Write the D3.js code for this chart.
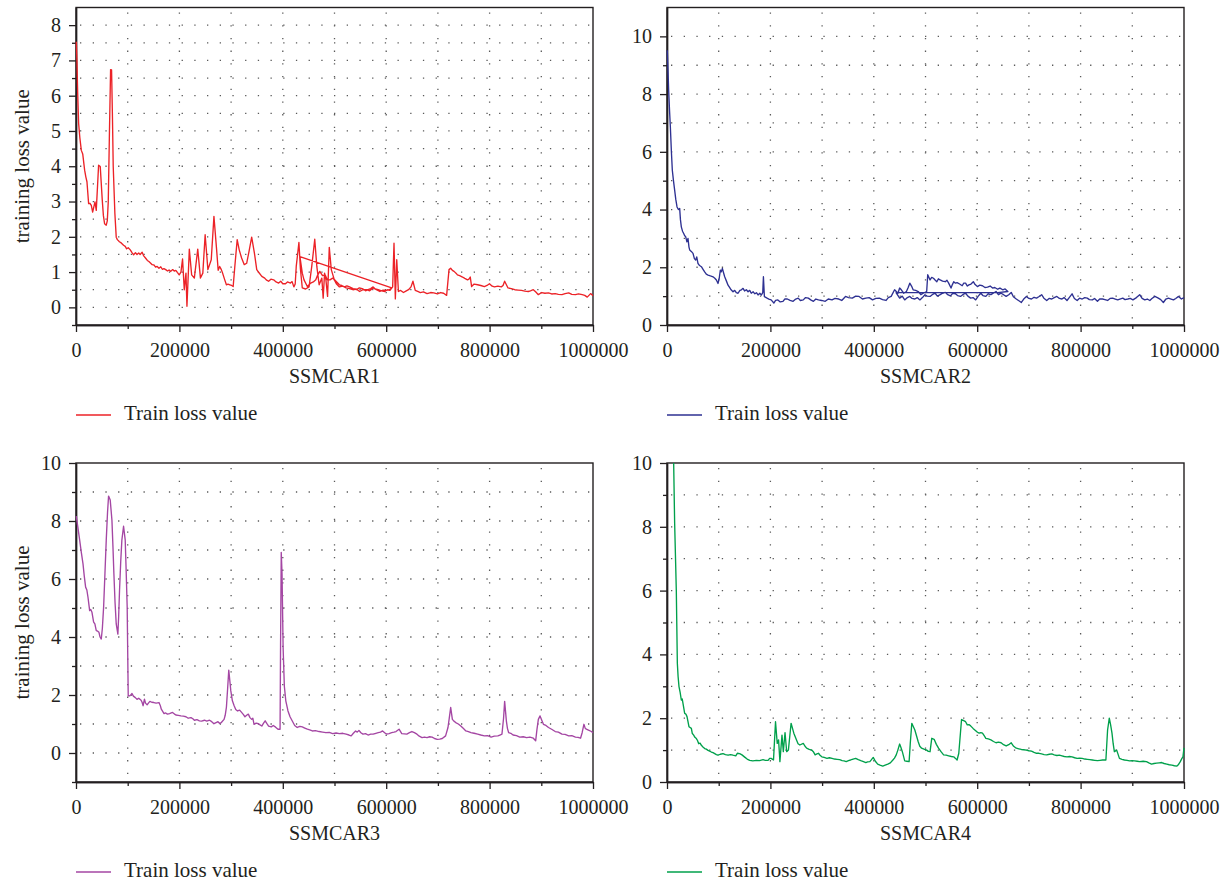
<!DOCTYPE html>
<html>
<head>
<meta charset="utf-8">
<script src="https://cdn.jsdelivr.net/npm/d3@7"></script>
<style>
	body { margin: 0; background: #fff; }
	svg text { font-family: "Liberation Serif", "Times New Roman", serif; fill: #231f20; }
</style>
</head>
<body>
<script>
const w = 1228;
const h = 882;

// * DATA (x = training step in thousands, y = loss)
const xMajorTicks = [0, 200, 400, 600, 800, 1000];
const xMinorTicks = [100, 300, 500, 700, 900];
const xGridLines = [100, 200, 300, 400, 500, 600, 700, 800, 900];

const titles = ["SSMCAR1", "SSMCAR2", "SSMCAR3", "SSMCAR4"];
const legendLabel = "Train loss value";
const yTitle = "training loss value";
const lineColors = ["#ec2227", "#2e3192", "#a446a3", "#00a04b"];

const car1YDomain = [-0.5, 8.5];
const car1YTicks = [0, 1, 2, 3, 4, 5, 6, 7, 8];
const car1YMinor = [-0.5, 0.5, 1.5, 2.5, 3.5, 4.5, 5.5, 6.5, 7.5];
const car1YGrid = [0, 0.5, 1, 1.5, 2, 2.5, 3, 3.5, 4, 4.5, 5, 5.5, 6, 6.5, 7, 7.5, 8];

const car2YDomain = [0, 11];
const car2YTicks = [0, 2, 4, 6, 8, 10];
const car2YMinor = [1, 3, 5, 7, 9];
const car2YGrid = [1, 2, 3, 4, 5, 6, 7, 8, 9, 10];

const car3YDomain = [-1, 10];
const car3YTicks = [0, 2, 4, 6, 8, 10];
const car3YMinor = [-1, 1, 3, 5, 7, 9];
const car3YGrid = [0, 1, 2, 3, 4, 5, 6, 7, 8, 9];

const car4YDomain = [0, 10];
const car4YTicks = [0, 2, 4, 6, 8, 10];
const car4YMinor = [1, 3, 5, 7, 9];
const car4YGrid = [1, 2, 3, 4, 5, 6, 7, 8, 9];

const car1Loss = [
	[0.6, 7.53], [1.8, 7.0], [3.2, 6.1], [5.1, 5.21], [7.5, 4.8], [10.3, 4.45], [13, 4.35], [16.7, 3.89], [19, 3.7],
	[21.2, 3.56], [24.4, 2.94], [27, 2.95], [29.6, 2.89], [32.2, 2.7], [34.5, 2.85], [36.7, 2.99],
	[39.2, 2.75], [41.5, 3.4], [43.7, 4.03], [46.9, 3.99], [50.8, 3.04], [53, 2.6], [55.3, 2.37],
	[58.5, 2.33], [60.5, 2.45], [62.4, 2.99], [64.5, 4.8], [66.9, 6.74], [68.8, 6.73], [70.5, 5.4],
	[72, 3.99], [75.2, 2.66], [77.8, 1.99], [80, 1.92], [84, 1.86], [88, 1.82], [92, 1.76], [95.2, 1.73],
	[98, 1.66], [101, 1.69], [105, 1.63], [108, 1.56], [111.5, 1.49], [115, 1.55], [118, 1.5],
	[121.3, 1.54], [124, 1.5], [127.9, 1.56], [131, 1.46], [134.4, 1.4], [138, 1.33], [141, 1.3],
	[144, 1.26], [147.4, 1.21], [151, 1.2], [154, 1.14], [157, 1.16], [160.5, 1.11], [164, 1.15],
	[167, 1.08], [170, 1.1], [173.5, 1.07], [177, 1.03], [180, 1.06], [183.3, 1.02], [187, 1.07],
	[190, 1.03], [193.1, 1.05], [196, 0.99], [199.6, 0.92], [203, 1.0], [206.1, 1.37], [209.4, 0.5],
	[212.7, 0.97], [214.6, 0.03], [219.2, 1.65], [223.7, 0.92], [228.9, 0.83], [235.5, 1.65],
	[240.7, 0.83], [245.3, 0.97], [249.8, 2.06], [255.1, 1.07], [261.6, 1.35], [266.8, 2.58],
	[272, 1.63], [275, 1.05], [277.9, 1.16], [281.1, 1.07], [284, 0.95], [287.7, 0.78], [290.9, 0.64],
	[294, 0.66], [297.5, 0.64], [301, 0.62], [304, 0.59], [307.2, 1.16], [311.8, 1.92], [315.7, 1.63],
	[320.3, 1.4], [325.5, 1.21], [330.1, 1.25], [334.6, 1.58], [339.8, 1.99], [345.1, 1.54],
	[349.6, 1.07], [354, 0.98], [359.4, 0.88], [365, 0.83], [368, 0.78], [372.5, 0.74], [377, 0.8],
	[382.3, 0.78], [387, 0.72], [392, 0.69], [396, 0.74], [400, 0.67], [405.1, 0.67], [409, 0.72],
	[414.9, 0.69], [418, 0.73], [421.4, 0.58], [424, 0.66], [426, 1.16], [431.2, 1.84], [434, 1.1],
	[437.7, 0.55], [444.2, 0.52], [450.8, 0.58], [456, 1.16], [461.8, 1.93], [465.8, 1.16],
	[470.3, 0.64], [475.5, 0.83], [478.1, 0.26], [480.8, 0.97], [483.4, 0.78], [486.6, 0.31],
	[489.9, 1.7], [493.8, 1.07], [499.7, 0.78], [504, 0.66], [509.5, 0.58], [516, 0.6], [522.5, 0.55],
	[529, 0.53], [535.6, 0.5], [542, 0.52], [548.6, 0.45], [555, 0.5], [561.7, 0.5], [568, 0.47],
	[574.7, 0.55], [581, 0.5], [587.7, 0.45], [594, 0.49], [600.8, 0.48], [606, 0.5], [610.6, 0.55],
	[433.1, 1.44], [437.7, 0.97], [441, 0.78], [447.5, 0.59], [454, 0.69], [459, 0.72], [463.8, 0.78],
	[467, 0.9], [471.6, 1.02], [476.8, 0.9], [482.1, 0.92], [486, 0.78], [491.2, 0.78], [496.4, 0.83],
	[502.9, 0.74], [509.5, 0.64], [514, 0.62], [519.2, 0.58], [524, 0.61], [529, 0.58], [536, 0.53],
	[542.1, 0.5], [548, 0.55], [555.1, 0.52], [560, 0.47], [564.9, 0.5], [570, 0.53], [574.7, 0.58],
	[579, 0.52], [584.5, 0.5], [591, 0.47], [597.5, 0.45], [602, 0.5], [607.3, 0.48], [612.5, 0.58],
	[615.1, 1.82], [617.7, 0.24], [620.4, 1.35], [623.6, 0.45], [628, 0.48], [633.4, 0.42],
	[638, 0.46], [643.2, 0.5], [648, 0.58], [651.7, 0.74], [656.2, 0.48], [661, 0.45], [666, 0.42],
	[672, 0.44], [679, 0.39], [686, 0.42], [692.1, 0.41], [699, 0.38], [705.2, 0.42], [711, 0.4],
	[716.9, 0.34], [721.5, 1.07], [724.7, 1.11], [728, 1.05], [731.3, 1.02], [735, 0.97], [737.8, 0.92],
	[742, 0.9], [747.6, 0.86], [752, 0.82], [757.3, 0.78], [760, 0.8], [762.6, 0.86], [765.2, 0.59],
	[770, 0.66], [776.9, 0.64], [783, 0.62], [789.9, 0.59], [795, 0.62], [799.7, 0.67], [805, 0.6],
	[809.5, 0.58], [816, 0.6], [822.6, 0.58], [826, 0.62], [829.1, 0.74], [835.6, 0.55], [842, 0.53],
	[848.7, 0.5], [855, 0.49], [861.7, 0.48], [868, 0.46], [874.8, 0.45], [879, 0.47], [884.5, 0.5],
	[889, 0.44], [894.3, 0.36], [900.8, 0.42], [907, 0.4], [913.9, 0.41], [920, 0.38], [926.9, 0.39],
	[933, 0.37], [940, 0.36], [946, 0.39], [953, 0.41], [959, 0.37], [966.1, 0.36], [972, 0.38],
	[979.1, 0.36], [984, 0.34], [988.9, 0.29], [995.4, 0.39], [1000, 0.33],
];

const car2Loss = [
	[0.5, 9.52], [1.8, 8.9], [3.2, 8.13], [5, 7.4], [6.5, 6.86], [8.5, 6.0], [10.3, 5.36], [12.5, 5.0],
	[14.8, 4.67], [17, 4.35], [19.4, 4.09], [22, 4.0], [24.5, 4.04], [26, 3.65], [27.7, 3.4],
	[30, 3.25], [32.3, 3.17], [34, 3.1], [36.1, 3.06], [38.5, 2.88], [40.6, 3.0], [42.5, 2.7],
	[43.9, 2.6], [47, 2.55], [50.3, 2.48], [53, 2.3], [55.5, 2.25], [57.5, 2.36], [60, 2.13],
	[63, 2.06], [66.5, 2.02], [70, 1.92], [72.9, 1.84], [76, 1.76], [79.4, 1.73], [84, 1.7], [89, 1.67],
	[92.5, 1.62], [95.5, 1.56], [98.7, 1.44], [101, 1.62], [103.2, 1.9], [105, 1.84], [107.1, 1.96],
	[109.5, 1.8], [111.6, 1.67], [115, 1.52], [118.1, 1.38], [121, 1.3], [124, 1.22], [127.7, 1.15],
	[131, 1.2], [134, 1.12], [137.4, 1.1], [141, 1.2], [144, 1.22], [147.1, 1.27], [150, 1.18],
	[153.5, 1.22], [156.8, 1.15], [160, 1.2], [163, 1.1], [166.5, 1.15], [170, 1.08], [173, 1.12],
	[176.1, 1.04], [179.5, 1.1], [182.6, 1.04], [185.2, 1.12], [186.5, 1.67], [188.4, 0.98],
	[193.6, 0.93], [197, 0.9], [201.4, 0.87], [206.7, 0.76], [210, 0.85], [214.5, 0.87], [219, 0.8],
	[224.3, 0.82], [228, 0.9], [232.8, 0.9], [238, 0.85], [243.9, 0.82], [249, 0.9], [253.8, 0.93],
	[258, 0.85], [263.6, 0.87], [268, 0.95], [273.4, 0.93], [278, 0.87], [283.2, 0.82], [288, 0.9],
	[293, 0.87], [299, 0.85], [306.1, 0.82], [312, 0.9], [319.2, 0.87], [325, 0.92], [332.2, 0.9],
	[338, 0.85], [345.3, 0.99], [351, 0.95], [358.4, 0.93], [365, 1.0], [371.5, 0.99], [378, 0.9],
	[384.6, 0.93], [391, 0.95], [397.6, 0.87], [404, 0.92], [410.7, 0.93], [417, 0.88], [423.8, 0.85],
	[428, 0.95], [433.6, 0.99], [440.2, 1.22], [446.7, 1.1], [450, 1.28], [453.2, 1.22], [458, 1.1],
	[463.1, 1.16], [466.5, 1.3], [469.6, 1.45], [473, 1.35], [476.1, 1.22], [481, 1.2], [485.9, 1.16],
	[491, 1.05], [495.7, 1.1], [502.3, 1.16], [504.3, 1.74], [508.8, 1.56], [512, 1.65], [515.4, 1.62],
	[519, 1.55], [521.9, 1.5], [525, 1.6], [528.4, 1.56], [533, 1.52], [538.3, 1.5], [541.5, 1.55],
	[544.8, 1.45], [549.4, 1.28], [552, 1.4], [554.6, 1.5], [558, 1.45], [561.1, 1.47], [566, 1.42],
	[571, 1.36], [574, 1.45], [577.5, 1.45], [581, 1.35], [584, 1.39], [588, 1.42], [592.5, 1.5],
	[596, 1.4], [600.4, 1.33], [605, 1.38], [610.2, 1.36], [615, 1.3], [620, 1.31], [625, 1.35],
	[629.8, 1.28], [634, 1.3], [639.6, 1.24], [644, 1.28], [649.4, 1.22], [654, 1.25], [659.3, 1.16],
	[640, 1.12], [443, 1.12], [450, 0.93], [455, 1.0], [459.8, 0.87], [465, 0.95], [469.6, 0.99],
	[474, 0.92], [479.4, 0.9], [484, 0.95], [489.2, 0.87], [494, 0.95], [499, 1.05], [503, 1.0],
	[508.8, 0.99], [513, 1.05], [518.6, 1.1], [523, 1.0], [528.4, 1.05], [533, 1.1], [538.3, 1.13],
	[543, 1.05], [548.1, 1.01], [553, 1.1], [557.9, 1.08], [562, 1.02], [567.7, 0.99], [572, 1.05],
	[577.5, 1.1], [582, 1.0], [587.3, 0.93], [592, 0.95], [597.1, 0.87], [602, 1.0], [606.9, 1.1],
	[611, 1.02], [616.7, 0.99], [621, 1.08], [626.5, 1.05], [631, 1.1], [636.4, 1.16], [641, 1.05],
	[646.2, 1.1], [651, 1.05], [656, 0.99], [661, 1.05], [665.8, 1.13], [670, 0.98], [675.6, 0.9],
	[680, 0.85], [685.4, 0.78], [690, 0.9], [695.2, 0.99], [700, 0.92], [705, 0.9], [710, 0.96],
	[714.8, 0.93], [719, 0.98], [724.6, 1.05], [729, 0.93], [734.5, 0.85], [739, 0.92], [744.3, 0.9],
	[749, 0.95], [754.1, 0.99], [759, 0.92], [763.9, 0.9], [768, 0.95], [773.7, 0.85], [778, 0.95],
	[783.5, 1.08], [788, 0.92], [793.3, 0.85], [798, 0.93], [803.1, 0.9], [808, 0.95], [812.9, 0.93],
	[817, 0.88], [822.8, 0.87], [827, 0.92], [832.6, 0.82], [837, 0.9], [842.4, 0.9], [847, 0.88],
	[852.2, 0.85], [857, 0.92], [862, 0.93], [867, 0.9], [871.8, 0.87], [876, 0.9], [881.6, 0.93],
	[886, 0.88], [891.4, 0.9], [896, 0.92], [901.2, 0.87], [908, 0.95], [914.3, 1.05], [919, 0.92],
	[924.1, 0.87], [929, 0.9], [933.9, 0.85], [938, 0.92], [943.7, 0.99], [950.3, 0.93], [955, 0.88],
	[960.1, 0.78], [965, 0.9], [969.9, 0.93], [975, 0.9], [979.7, 0.87], [984, 0.92], [989.5, 0.99],
	[995, 0.9], [1000, 0.95],
];

const car3Loss = [
	[0.5, 8.17], [3.5, 7.8], [7.1, 7.34], [10, 6.95], [13.5, 6.53], [16, 6.1], [18.6, 5.72], [21, 5.62],
	[23.2, 5.37], [26.4, 4.91], [28.5, 4.95], [30.9, 4.85], [34.1, 4.51], [36.5, 4.45], [39.2, 4.22],
	[42, 4.2], [44.4, 4.16], [46.5, 4.0], [48.9, 3.93], [51, 4.3], [53.4, 5.03], [56, 6.2], [58.5, 7.34],
	[61, 8.3], [63, 8.86], [66.2, 8.72], [69.5, 8.03], [71.5, 7.1], [73.3, 6.18], [75.5, 5.2],
	[77.8, 4.45], [81, 4.1], [82.5, 4.7], [84.2, 5.6], [86.5, 6.6], [88.7, 7.34], [92, 7.82],
	[95.2, 7.34], [97, 6.3], [99, 5.03], [100, 3.5], [101, 1.97], [103.7, 1.97], [106, 2.0],
	[108.3, 2.05], [111, 1.96], [114.8, 1.91], [118, 1.85], [121.3, 1.89], [125.9, 1.82],
	[127.8, 1.75], [129.8, 1.63], [132.4, 1.86], [134.5, 1.72], [137.6, 1.66], [140, 1.72],
	[142.9, 1.78], [146.5, 1.75], [150.7, 1.74], [155, 1.72], [160.5, 1.74], [163, 1.64], [165, 1.51],
	[170.3, 1.36], [173.5, 1.38], [176.8, 1.34], [181, 1.36], [186.6, 1.4], [190, 1.35], [193.1, 1.31],
	[198, 1.3], [202.9, 1.28], [207.5, 1.27], [212.7, 1.25], [217, 1.2], [222.4, 1.22], [226, 1.18],
	[229, 1.13], [234, 1.15], [238.7, 1.11], [243, 1.1], [248.5, 1.13], [253, 1.1], [258.3, 1.13],
	[262.5, 1.08], [266.8, 1.01], [271, 1.05], [274.6, 1.08], [278, 1.02], [281.1, 1.05], [286.4, 1.16],
	[288.6, 1.3], [290.9, 1.57], [293.2, 2.2], [295.5, 2.86], [297.5, 2.5], [299.4, 2.15], [302.5, 1.8],
	[305.9, 1.63], [309, 1.5], [312.5, 1.45], [316.5, 1.48], [320.3, 1.4], [323.5, 1.33], [326.8, 1.25],
	[330, 1.3], [333.3, 1.34], [336.5, 1.22], [339.9, 1.16], [342, 1.2], [344.4, 0.99], [348.5, 1.03],
	[352.9, 1.01], [356, 0.97], [359.4, 0.93], [362.5, 1.02], [365.9, 1.11], [369, 1.02], [372.5, 0.93],
	[377.7, 0.9], [381.5, 0.95], [385.5, 0.9], [390.7, 0.82], [394.7, 0.82], [395.7, 3.8],
	[397, 6.92], [398.5, 6.2], [400.6, 3.64], [403, 2.3], [405.8, 1.8], [410, 1.45], [414, 1.25],
	[418.1, 1.11], [423, 0.95], [427.9, 0.88], [433, 0.92], [437.7, 0.9], [442.5, 0.86], [447.5, 0.82],
	[452, 0.8], [457.3, 0.76], [463, 0.77], [470.3, 0.74], [477, 0.72], [483.4, 0.7], [490, 0.71],
	[496.4, 0.67], [503, 0.69], [509.5, 0.67], [516, 0.68], [522.5, 0.65], [528, 0.62], [532.3, 0.59],
	[536.5, 0.68], [540.8, 0.76], [544, 0.72], [547.3, 0.78], [551, 0.7], [555.1, 0.65], [560, 0.67],
	[564.9, 0.62], [570, 0.65], [574.7, 0.65], [580, 0.68], [584.5, 0.7], [589, 0.72], [593, 0.76],
	[597, 0.7], [600.8, 0.65], [605.5, 0.67], [610.6, 0.7], [615, 0.72], [619, 0.74], [624.9, 0.82],
	[630.1, 0.67], [635, 0.66], [639.9, 0.65], [645, 0.7], [649.7, 0.74], [654.5, 0.7], [659.5, 0.65],
	[664, 0.58], [669.3, 0.53], [674, 0.55], [679, 0.53], [684, 0.56], [688.9, 0.55], [693.5, 0.5],
	[698.6, 0.47], [703.5, 0.48], [708.4, 0.5], [714.9, 0.59], [719.5, 0.88], [722, 1.2],
	[724.7, 1.57], [728, 1.16], [731, 1.1], [734.5, 1.05], [739.5, 1.0], [744.3, 0.93], [749, 0.85],
	[754.1, 0.76], [759, 0.74], [763.9, 0.7], [770, 0.68], [776.9, 0.65], [783, 0.62], [789.9, 0.59],
	[796, 0.6], [803, 0.55], [809, 0.58], [816, 0.59], [820, 0.62], [823.9, 0.65], [827, 1.2],
	[829.1, 1.78], [831, 1.4], [832.4, 1.11], [834.5, 0.85], [836.9, 0.7], [841, 0.68], [845.4, 0.62],
	[852, 0.6], [858.4, 0.55], [865, 0.56], [871.5, 0.53], [878, 0.55], [884.5, 0.51], [889.1, 0.42],
	[891.5, 0.8], [894.3, 1.16], [897.6, 1.28], [900.5, 1.15], [904.1, 0.99], [909, 0.95],
	[913.9, 0.88], [920, 0.82], [926.9, 0.74], [933, 0.72], [940, 0.65], [946, 0.64], [953, 0.59],
	[959, 0.6], [966.1, 0.55], [971, 0.54], [975.9, 0.51], [979, 0.7], [982.4, 0.99], [985, 0.85],
	[987, 0.82], [992.2, 0.78], [996, 0.75], [1000, 0.7],
];

const car4Loss = [
	[12.9, 10.0], [14.8, 8.1], [16.5, 7.0], [18, 6.0], [20, 3.72], [21.5, 3.3], [23.2, 2.99],
	[25.5, 2.8], [27.7, 2.57], [29.5, 2.6], [31, 2.46], [34.2, 2.15], [36.5, 2.13], [38.7, 2.05],
	[42.6, 1.73], [47.1, 1.68], [49, 1.52], [51.6, 1.47], [54, 1.4], [56.8, 1.36], [59, 1.3],
	[61.3, 1.2], [64, 1.22], [66.5, 1.15], [69.5, 1.1], [72.9, 1.05], [76, 1.03], [79.4, 0.99],
	[82.5, 0.97], [85.8, 0.94], [89, 0.92], [92.3, 0.89], [95.5, 0.86], [98.7, 0.84], [103, 0.87],
	[108.4, 0.89], [113, 0.86], [118.1, 0.84], [123, 0.86], [127.7, 0.84], [133, 0.82], [136, 0.9],
	[140.6, 0.89], [145, 0.85], [150.3, 0.78], [155, 0.72], [160, 0.68], [166, 0.66], [172.9, 0.68],
	[179, 0.67], [185.8, 0.7], [190, 0.68], [195.5, 0.68], [198.5, 0.74], [201.4, 0.74], [206, 0.69],
	[209.9, 1.89], [213.2, 1.21], [215.8, 1.32], [218.4, 0.64], [222.4, 1.47], [225, 0.95],
	[228.3, 1.55], [231.5, 0.95], [234.8, 1.0], [240, 1.84], [245.3, 1.53], [250.5, 1.32],
	[253.5, 1.2], [257, 1.16], [263.6, 1.21], [267, 1.12], [270.1, 1.06], [275, 1.02], [279.9, 1.0],
	[283, 0.95], [286.5, 0.85], [290, 0.88], [293, 0.9], [296, 0.84], [299.5, 0.79], [304, 0.77],
	[309.4, 0.74], [314, 0.76], [319.2, 0.74], [324, 0.72], [329, 0.71], [334, 0.7], [338.8, 0.67],
	[342.5, 0.66], [346.6, 0.64], [351, 0.67], [355.1, 0.69], [360, 0.72], [364.9, 0.74], [370, 0.7],
	[374.8, 0.67], [380, 0.64], [384.6, 0.61], [388, 0.63], [392.4, 0.64], [395.5, 0.7], [398.9, 0.77],
	[403, 0.65], [407.5, 0.56], [412, 0.53], [417.3, 0.5], [422, 0.53], [427.1, 0.56], [432, 0.6],
	[436.9, 0.69], [440, 0.75], [443.4, 0.85], [446.5, 1.0], [450, 1.19], [452.5, 1.08], [455.2, 0.95],
	[459.8, 0.66], [464, 0.65], [468.3, 0.64], [470.5, 1.2], [473.5, 1.84], [479.4, 1.63],
	[485.9, 1.26], [489, 1.12], [492.5, 1.06], [497, 1.03], [502.3, 1.0], [505.5, 0.96], [508.8, 0.95],
	[512.1, 1.37], [516.7, 1.34], [521, 1.18], [525.2, 1.06], [530, 0.95], [535, 0.85], [540, 0.84],
	[544.8, 0.82], [550, 0.8], [554.6, 0.79], [558, 0.74], [561.1, 0.69], [564.4, 0.9], [569.7, 1.96],
	[573, 1.93], [577.5, 1.89], [580.8, 1.79], [584, 1.8], [587.3, 1.76], [592, 1.68], [597.1, 1.61],
	[600.5, 1.56], [603.7, 1.53], [607, 1.55], [610.2, 1.53], [613.5, 1.45], [616.7, 1.37],
	[621.5, 1.35], [626.5, 1.32], [631.5, 1.27], [636.4, 1.23], [641, 1.25], [646.2, 1.23],
	[651, 1.17], [656, 1.13], [661, 1.17], [665.8, 1.23], [670.5, 1.12], [675.6, 1.06], [680.5, 1.04],
	[685.4, 1.02], [690, 1.01], [695.2, 1.0], [700, 0.98], [705, 0.97], [710, 0.93], [714.8, 0.9],
	[719.5, 0.9], [724.6, 0.88], [729.5, 0.86], [734.5, 0.85], [739.5, 0.87], [744.3, 0.88],
	[749, 0.85], [754.1, 0.83], [759, 0.84], [763.9, 0.82], [768.5, 0.8], [773.7, 0.79], [778.5, 0.8],
	[783.5, 0.79], [788.5, 0.76], [793.3, 0.74], [798, 0.75], [803.1, 0.74], [808, 0.72], [812.9, 0.71],
	[818, 0.7], [822.8, 0.69], [827.5, 0.68], [832.6, 0.67], [837.5, 0.68], [842.4, 0.69],
	[848.9, 0.69], [852.2, 1.63], [855.5, 2.0], [858, 1.8], [860.7, 1.53], [863, 1.2], [865.3, 0.95],
	[869.8, 1.0], [875.1, 0.74], [880, 0.71], [884.9, 0.69], [890, 0.68], [894.7, 0.66], [899.5, 0.67],
	[904.5, 0.66], [909.5, 0.65], [914.3, 0.64], [921, 0.65], [927.4, 0.64], [932, 0.6], [937.2, 0.56],
	[942, 0.58], [947, 0.59], [952, 0.6], [956.8, 0.61], [961.5, 0.58], [966.6, 0.56], [971.5, 0.54],
	[976.5, 0.53], [981.5, 0.51], [986.3, 0.5], [989.5, 0.55], [992.8, 0.64], [996, 0.74],
	[998, 0.79], [1000, 1.07],
];

// * LAYOUT
const svg = d3.select("body").append("svg").attr("width", w).attr("height", h);

const panels = [
	{ data: car1Loss, yDomain: car1YDomain, yTicks: car1YTicks, yMinor: car1YMinor, yGrid: car1YGrid, left: 76, right: 593, top: 7.5, bottom: 325, yLabel: true },
	{ data: car2Loss, yDomain: car2YDomain, yTicks: car2YTicks, yMinor: car2YMinor, yGrid: car2YGrid, left: 667, right: 1184, top: 7.5, bottom: 325, yLabel: false },
	{ data: car3Loss, yDomain: car3YDomain, yTicks: car3YTicks, yMinor: car3YMinor, yGrid: car3YGrid, left: 76, right: 593, top: 463, bottom: 782, yLabel: true },
	{ data: car4Loss, yDomain: car4YDomain, yTicks: car4YTicks, yMinor: car4YMinor, yGrid: car4YGrid, left: 667, right: 1184, top: 463, bottom: 782, yLabel: false },
];

panels.forEach((p, i) => {
	const g = svg.append("g");
	const xScale = d3.scaleLinear().domain([0, 1000]).range([p.left, p.right]);
	const yScale = d3.scaleLinear().domain(p.yDomain).range([p.bottom, p.top]);

	// * GRID (dotted)
	g.selectAll(".hgrid")
		.data(p.yGrid)
		.enter()
		.append("line")
		.attr("x1", p.left + 4)
		.attr("x2", p.right)
		.attr("y1", (d) => yScale(d))
		.attr("y2", (d) => yScale(d))
		.attr("stroke", "#5a5a5a")
		.attr("stroke-width", 1.3)
		.attr("stroke-dasharray", "1.3,11.4");
	g.selectAll(".vgrid")
		.data(xGridLines)
		.enter()
		.append("line")
		.attr("x1", (d) => xScale(d))
		.attr("x2", (d) => xScale(d))
		.attr("y1", p.top + 5)
		.attr("y2", p.bottom)
		.attr("stroke", "#5a5a5a")
		.attr("stroke-width", 1.3)
		.attr("stroke-dasharray", "1.3,11.4");

	// * FRAME
	g.append("rect")
		.attr("x", p.left)
		.attr("y", p.top)
		.attr("width", p.right - p.left)
		.attr("height", p.bottom - p.top)
		.attr("fill", "none")
		.attr("stroke", "#231f20")
		.attr("stroke-width", 1.4);

	// * X AXIS
	const xAxis = d3
		.axisBottom(xScale)
		.tickValues(xMajorTicks)
		.tickSize(7)
		.tickSizeOuter(0)
		.tickPadding(11)
		.tickFormat((d) => d * 1000);
	const xMinor = d3
		.axisBottom(xScale)
		.tickValues(xMinorTicks)
		.tickSize(4)
		.tickSizeOuter(0)
		.tickFormat("");
	g.append("g").attr("transform", `translate(0,${p.bottom})`).call(xMinor);
	g.append("g").attr("transform", `translate(0,${p.bottom})`).call(xAxis);

	// * Y AXIS
	const yAxis = d3
		.axisLeft(yScale)
		.tickValues(p.yTicks)
		.tickSize(7)
		.tickSizeOuter(0)
		.tickPadding(8);
	const yMinor = d3
		.axisLeft(yScale)
		.tickValues(p.yMinor)
		.tickSize(4)
		.tickSizeOuter(0)
		.tickFormat("");
	g.append("g").attr("transform", `translate(${p.left},0)`).call(yMinor);
	g.append("g").attr("transform", `translate(${p.left},0)`).call(yAxis);

	g.selectAll(".domain").attr("stroke", "#231f20").attr("stroke-width", 1.4);
	g.selectAll(".tick line").attr("stroke", "#231f20").attr("stroke-width", 1.3);
	g.selectAll(".tick text").style("font-size", "20px").attr("fill", "#231f20");

	// * LINE (drawn over the axes, like the original)
	const clipId = "clip" + i;
	svg.append("clipPath")
		.attr("id", clipId)
		.append("rect")
		.attr("x", p.left - 1)
		.attr("y", p.top)
		.attr("width", p.right - p.left + 2)
		.attr("height", p.bottom - p.top);
	const line = d3
		.line()
		.x((d) => xScale(d[0]))
		.y((d) => yScale(d[1]));
	g.append("path")
		.datum(p.data)
		.attr("clip-path", `url(#${clipId})`)
		.attr("fill", "none")
		.attr("stroke", lineColors[i])
		.attr("stroke-width", 1.35)
		.attr("stroke-linejoin", "round")
		.attr("d", line);

	// * TITLES
	const midX = (p.left + p.right) / 2;
	g.append("text")
		.attr("x", midX)
		.attr("y", p.bottom + 58)
		.attr("text-anchor", "middle")
		.style("font-size", "20px")
		.text(titles[i]);

	if (p.yLabel) {
		g.append("text")
			.attr("transform", `translate(29,${(p.top + p.bottom) / 2}) rotate(-90)`)
			.attr("text-anchor", "middle")
			.style("font-size", "21px")
			.text(yTitle);
	}

	// * LEGEND
	g.append("line")
		.attr("x1", p.left)
		.attr("x2", p.left + 35)
		.attr("y1", p.bottom + 90)
		.attr("y2", p.bottom + 90)
		.attr("stroke", lineColors[i])
		.attr("stroke-width", 1.35);
	g.append("text")
		.attr("x", p.left + 48)
		.attr("y", p.bottom + 95)
		.style("font-size", "21px")
		.text(legendLabel);
});
</script>
</body>
</html>
